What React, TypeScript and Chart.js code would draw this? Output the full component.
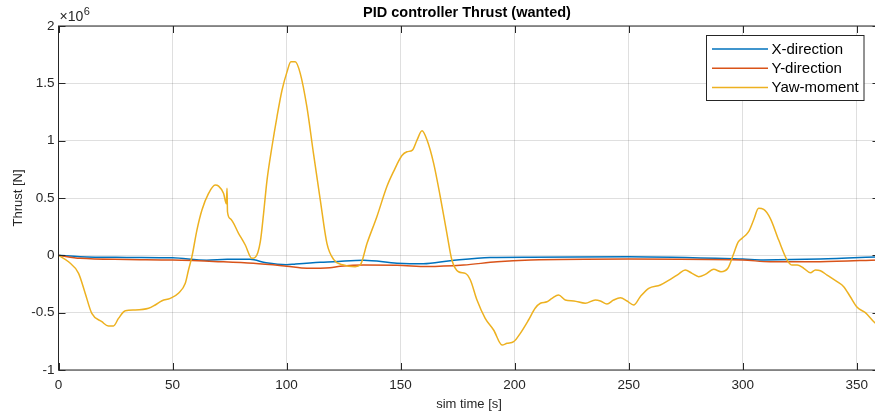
import React, { useEffect, useRef } from "react";
import { Chart, registerables } from "chart.js";

Chart.register(...registerables);

// ---- data (values in units of 1e6 N) ----
const yawTime = [0, 4.4, 8.8, 11.7, 14.6, 19, 21.9, 24.1, 26.3, 29.3, 33.6, 39.5, 42.4, 45.4, 49, 52.6, 55.6, 57, 58.5, 60.7, 62.9, 65.8, 68.7, 70.2, 72.4, 73.6, 73.9, 74.1, 75.3, 79, 81.9, 84.8, 86.3, 88.5, 89.9, 91.4, 93.6, 95.8, 98, 100.2, 101.9, 103.8, 106, 108.9, 111.8, 114.8, 117.7, 120.6, 125, 130.1, 132.3, 135.3, 139.6, 144, 146.9, 150.6, 152.8, 155.2, 157.2, 159.4, 161.6, 164.5, 167.4, 170.3, 172.5, 175.4, 178.4, 180.6, 183.5, 187.1, 190.8, 194.5, 196.7, 199.6, 202.5, 206.1, 209, 211.3, 214.2, 216.4, 219.3, 222.2, 226, 231, 235.4, 237.6, 240.5, 243.4, 246.4, 249.3, 252.2, 255.1, 258.8, 263.9, 268.3, 271.9, 274.8, 277.8, 280.7, 283.6, 287.3, 290.5, 293.5, 295.8, 298, 299.7, 302.6, 304.8, 307, 309.2, 312.1, 315.8, 319.5, 321.7, 323.9, 326.8, 329.7, 331.9, 334.1, 337, 341.4, 344.3, 347.2, 350.2, 353.8, 357.5, 360];
const yawMoment = [0, -0.056, -0.157, -0.33, -0.506, -0.579, -0.616, -0.616, -0.55, -0.483, -0.477, -0.462, -0.433, -0.396, -0.375, -0.331, -0.244, -0.128, -0.012, 0.22, 0.395, 0.54, 0.613, 0.604, 0.54, 0.45, 0.584, 0.38, 0.32, 0.19, 0.09, -0.026, -0.017, 0.12, 0.36, 0.65, 0.947, 1.208, 1.44, 1.6, 1.688, 1.688, 1.587, 1.296, 0.889, 0.482, 0.105, -0.035, -0.085, -0.099, -0.085, 0.105, 0.337, 0.6, 0.73, 0.87, 0.903, 0.918, 1.005, 1.086, 1.005, 0.802, 0.511, 0.192, -0.041, -0.143, -0.157, -0.215, -0.39, -0.549, -0.651, -0.782, -0.767, -0.753, -0.68, -0.564, -0.462, -0.418, -0.405, -0.375, -0.346, -0.39, -0.398, -0.418, -0.39, -0.398, -0.425, -0.39, -0.37, -0.398, -0.433, -0.361, -0.288, -0.259, -0.209, -0.163, -0.128, -0.157, -0.186, -0.166, -0.122, -0.143, -0.113, 0.0, 0.115, 0.148, 0.206, 0.308, 0.41, 0.401, 0.323, 0.133, -0.041, -0.085, -0.085, -0.113, -0.152, -0.128, -0.134, -0.172, -0.23, -0.273, -0.361, -0.453, -0.5, -0.579, -0.62];

const xDirTime = [0, 9.5, 30, 50, 65, 74, 84, 91, 100, 104, 114.8, 120.6, 133.8, 148.4, 160, 171.8, 189.3, 206.9, 250, 300, 309, 334, 360];
const xDirThrust = [0, -0.012, -0.018, -0.022, -0.042, -0.035, -0.035, -0.065, -0.082, -0.075, -0.06, -0.056, -0.043, -0.068, -0.074, -0.047, -0.018, -0.016, -0.012, -0.033, -0.04, -0.033, -0.012];

const yDirTime = [0, 9.5, 30, 50, 70, 85.5, 100, 109, 119, 123.5, 133.8, 148.4, 161.6, 177.6, 192.3, 207, 250, 300, 312, 334, 360];
const yDirThrust = [0, -0.026, -0.036, -0.041, -0.055, -0.07, -0.095, -0.113, -0.108, -0.096, -0.085, -0.086, -0.098, -0.085, -0.056, -0.041, -0.032, -0.041, -0.056, -0.055, -0.04];

const xTicks = [0, 50, 100, 150, 200, 250, 300, 350];
const yTicks = [-1, -0.5, 0, 0.5, 1, 1.5, 2];
const seriesNames = ["X-direction", "Y-direction", "Yaw-moment"];
const seriesColors = ["#0072BD", "#D95319", "#EDB120"];

const chartTitle = "PID controller Thrust (wanted)";
const xTitle = "sim time [s]";
const yTitle = "Thrust [N]";

const FONT = "'Liberation Sans', Arial, Helvetica, sans-serif";
const AXIS = "#262626";

const pts = (t: number[], v: number[]) => t.map((x, i) => ({ x, y: v[i] }));

const decorPlugin = {
  id: "decor",
  afterDraw(chart: any) {
    const ctx = chart.ctx;
    const { left, right, top, bottom } = chart.chartArea;
    const xs = chart.scales.x;
    const ys = chart.scales.y;
    ctx.save();
    // box
    ctx.strokeStyle = AXIS;
    ctx.lineWidth = 1;
    ctx.strokeRect(left, top, right - left, bottom - top);
    // inward ticks
    const tl = 7;
    ctx.beginPath();
    xTicks.forEach((v) => {
      const px = Math.round(xs.getPixelForValue(v)) + 0.5;
      ctx.moveTo(px, bottom);
      ctx.lineTo(px, bottom - tl);
      ctx.moveTo(px, top);
      ctx.lineTo(px, top + tl);
    });
    yTicks.forEach((v) => {
      const py = Math.round(ys.getPixelForValue(v)) + 0.5;
      ctx.moveTo(left, py);
      ctx.lineTo(left + tl, py);
      ctx.moveTo(right, py);
      ctx.lineTo(right - tl, py);
    });
    ctx.stroke();

    // title
    ctx.fillStyle = "#000";
    ctx.font = `bold 14.5px ${FONT}`;
    ctx.textAlign = "center";
    ctx.textBaseline = "middle";
    ctx.fillText(chartTitle, 467, 13);

    // exponent label
    ctx.fillStyle = AXIS;
    ctx.textAlign = "left";
    ctx.textBaseline = "alphabetic";
    ctx.font = `14px ${FONT}`;
    const base = "\u00d710";
    ctx.fillText(base, 59.5, 20.5);
    const w = ctx.measureText(base).width;
    ctx.font = `11px ${FONT}`;
    ctx.fillText("6", 59.5 + w + 0.5, 15);

    // legend
    const lx = 706.5, ly = 35.5, lw = 157.5, lh = 65;
    ctx.fillStyle = "#fff";
    ctx.fillRect(lx, ly, lw, lh);
    ctx.strokeStyle = AXIS;
    ctx.lineWidth = 1;
    ctx.strokeRect(lx, ly, lw, lh);
    ctx.font = `15px ${FONT}`;
    ctx.textBaseline = "middle";
    seriesNames.forEach((name, i) => {
      const y = 49 + i * 19.2;
      ctx.strokeStyle = seriesColors[i];
      ctx.lineWidth = 1.5;
      ctx.beginPath();
      ctx.moveTo(712, y);
      ctx.lineTo(768, y);
      ctx.stroke();
      ctx.fillStyle = "#000";
      ctx.fillText(name, 771.5, y + 0.5);
    });
    ctx.restore();
  },
};

export default function App() {
  const ref = useRef<HTMLCanvasElement>(null);
  useEffect(() => {
    document.body.style.margin = "0";
    const canvas = ref.current!;
    const chart = new Chart(canvas, {
      type: "line",
      data: {
        datasets: [
          {
            label: seriesNames[2],
            data: pts(yawTime, yawMoment),
            borderColor: seriesColors[2],
            borderWidth: 1.5,
            pointRadius: 0,
            cubicInterpolationMode: "monotone",
            order: 0,
          },
          {
            label: seriesNames[1],
            data: pts(yDirTime, yDirThrust),
            borderColor: seriesColors[1],
            borderWidth: 1.5,
            pointRadius: 0,
            cubicInterpolationMode: "monotone",
            order: 1,
          },
          {
            label: seriesNames[0],
            data: pts(xDirTime, xDirThrust),
            borderColor: seriesColors[0],
            borderWidth: 1.5,
            pointRadius: 0,
            cubicInterpolationMode: "monotone",
            order: 2,
          },
        ],
      },
      options: {
        responsive: false,
        animation: false,
        devicePixelRatio: 1,
        layout: { padding: { left: 0, top: 26, right: 0.5, bottom: 0 } },
        plugins: {
          legend: { display: false },
          title: { display: false },
          tooltip: { enabled: false },
        },
        scales: {
          x: {
            type: "linear",
            min: 0,
            max: 360,
            afterBuildTicks: (s: any) => {
              s.ticks = xTicks.map((v) => ({ value: v }));
            },
            afterFit: (s: any) => {
              s.height = 49;
            },
            border: { display: false },
            grid: { color: "rgba(38,38,38,0.15)", drawTicks: false, lineWidth: 1 },
            ticks: {
              color: AXIS,
              font: { family: FONT, size: 13.5 },
              padding: 7,
              maxRotation: 0,
              autoSkip: false,
            },
            title: {
              display: true,
              text: xTitle,
              color: AXIS,
              font: { family: FONT, size: 13 },
              padding: { top: 7, bottom: 7 },
            },
          },
          y: {
            type: "linear",
            min: -1,
            max: 2,
            afterBuildTicks: (s: any) => {
              s.ticks = yTicks.map((v) => ({ value: v }));
            },
            afterFit: (s: any) => {
              s.width = 58.5;
            },
            border: { display: false },
            grid: { color: "rgba(38,38,38,0.15)", drawTicks: false, lineWidth: 1 },
            ticks: {
              color: AXIS,
              font: { family: FONT, size: 13.5 },
              padding: 4,
              callback: (v: any) => String(v),
            },
            title: {
              display: true,
              text: yTitle,
              color: AXIS,
              font: { family: FONT, size: 13 },
              padding: { top: 10.2, bottom: 10.2 },
            },
          },
        },
      },
      plugins: [decorPlugin],
    } as any);
    return () => chart.destroy();
  }, []);
  return (
    <div style={{ position: "fixed", left: 0, top: 0, width: 875, height: 419, overflow: "hidden", background: "#fff" }}>
      <canvas ref={ref} width={880} height={419} style={{ display: "block", width: 880, height: 419 }} />
    </div>
  );
}
